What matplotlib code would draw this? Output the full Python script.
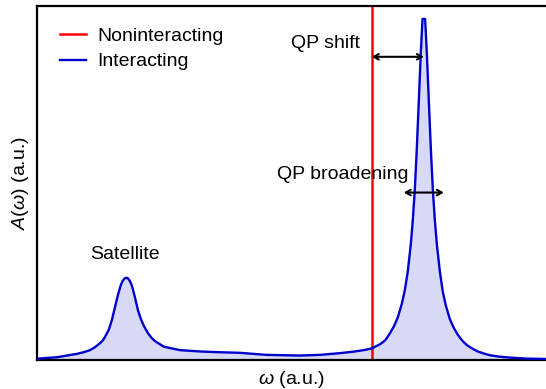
import numpy as np
import matplotlib
matplotlib.use('Agg')
import matplotlib.pyplot as plt

plt.rcParams['font.family'] = ['Liberation Sans', 'DejaVu Sans']
plt.rcParams['mathtext.fontset'] = 'custom'
plt.rcParams['mathtext.rm'] = 'Liberation Sans'
plt.rcParams['mathtext.it'] = 'Liberation Sans:italic'

# spectral function A(w), noninteracting level at w = 0, quasiparticle at w = 1
omega = [-6.44, -6.06, -5.67, -5.54, -5.42, -5.33, -5.23, -5.17, -5.135, -5.06,
         -5.0, -4.94, -4.885, -4.827, -4.795, -4.769, -4.745, -4.721, -4.697, -4.673,
         -4.645, -4.615, -4.558, -4.5,
         -4.442, -4.385, -4.308, -4.231, -4.173, -4.115, -4.0, -3.846, -3.692, -3.308,
         -2.981, -2.538, -2.019, -1.385, -1.0, -0.615, -0.327, -0.15, 0.0, 0.077,
         0.154, 0.211, 0.269, 0.346, 0.423, 0.5, 0.577, 0.635, 0.692, 0.75,
         0.788, 0.827, 0.865, 0.904, 0.942, 0.975, 1.025, 1.058, 1.096, 1.135,
         1.173, 1.212, 1.25, 1.308, 1.365, 1.423, 1.5, 1.577, 1.654, 1.712,
         1.769, 1.827, 1.885, 1.962, 2.038, 2.154, 2.269, 2.442, 2.654, 3.0,
         3.35]
A_int = [0.004, 0.008, 0.018, 0.023, 0.029, 0.037, 0.049, 0.058, 0.067, 0.088,
         0.117, 0.155, 0.19, 0.22, 0.231, 0.237, 0.240, 0.241, 0.240, 0.236,
         0.229, 0.218, 0.185, 0.147,
         0.12, 0.10, 0.079, 0.064, 0.056, 0.050, 0.039, 0.034, 0.029, 0.025,
         0.023, 0.021, 0.015, 0.013, 0.015, 0.020, 0.025, 0.029, 0.034, 0.040,
         0.046, 0.052, 0.060, 0.078, 0.098, 0.125, 0.165, 0.205, 0.26, 0.34,
         0.41, 0.50, 0.62, 0.76, 0.90, 1.0, 1.0, 0.90, 0.76, 0.62,
         0.50, 0.41, 0.34, 0.26, 0.20, 0.16, 0.12, 0.094, 0.074, 0.062,
         0.052, 0.044, 0.038, 0.031, 0.025, 0.019, 0.014, 0.010, 0.007, 0.004,
         0.003]

E0 = 0.0      # noninteracting level
Eqp = 1.0     # quasiparticle peak
shift_y = 0.889
broad = [0.615, 1.385]
broad_y = 0.491

LineCol = '#0000cd'
FillCol = '#d8daf5'

fig = plt.figure(figsize=(5.46, 3.89), dpi=100)
ax = fig.add_axes([37/546, 29/389, 509/546, 354/389])

ax.fill_between(omega, A_int, 0, color=FillCol, lw=0, zorder=1)
ax.plot(omega, A_int, color=LineCol, lw=1.7, label='Interacting', zorder=3)
ax.axvline(E0, color='red', lw=1.8, label='Noninteracting', zorder=2)

ax.annotate('', xy=(Eqp, shift_y), xytext=(E0, shift_y),
            arrowprops=dict(arrowstyle='<->, head_length=0.35, head_width=0.2', color='k', lw=1.5,
                            shrinkA=0, shrinkB=0))
ax.annotate('', xy=(broad[1], broad_y), xytext=(broad[0], broad_y),
            arrowprops=dict(arrowstyle='<->, head_length=0.35, head_width=0.2', color='k', lw=1.5,
                            shrinkA=0, shrinkB=0), zorder=4)

ax.text(-0.885, 0.916, 'QP shift', fontsize=14, ha='center', va='baseline')
ax.text(-0.558, 0.531, 'QP broadening', fontsize=14, ha='center', va='baseline')
ax.text(-4.744, 0.296, 'Satellite', fontsize=14, ha='center', va='baseline')

ax.set_xlim(-6.44, 3.35)
ax.set_ylim(0, 1.038)
ax.set_xticks([])
ax.set_yticks([])
for s in ['left', 'bottom', 'top']:
    ax.spines[s].set_linewidth(1.6)
ax.spines['right'].set_visible(False)

ax.set_xlabel(r'$\omega$ (a.u.)', fontsize=14, labelpad=6.5)
ax.set_ylabel(r'$A(\omega)$ (a.u.)', fontsize=14, labelpad=4)

h, l = ax.get_legend_handles_labels()
ax.legend(h[::-1], l[::-1], loc='upper left', bbox_to_anchor=(0.01, 0.99), frameon=False,
          fontsize=14, handlelength=1.35, handletextpad=0.6, labelspacing=0.42, borderpad=0.4)

fig.savefig('out.png', dpi=100)
